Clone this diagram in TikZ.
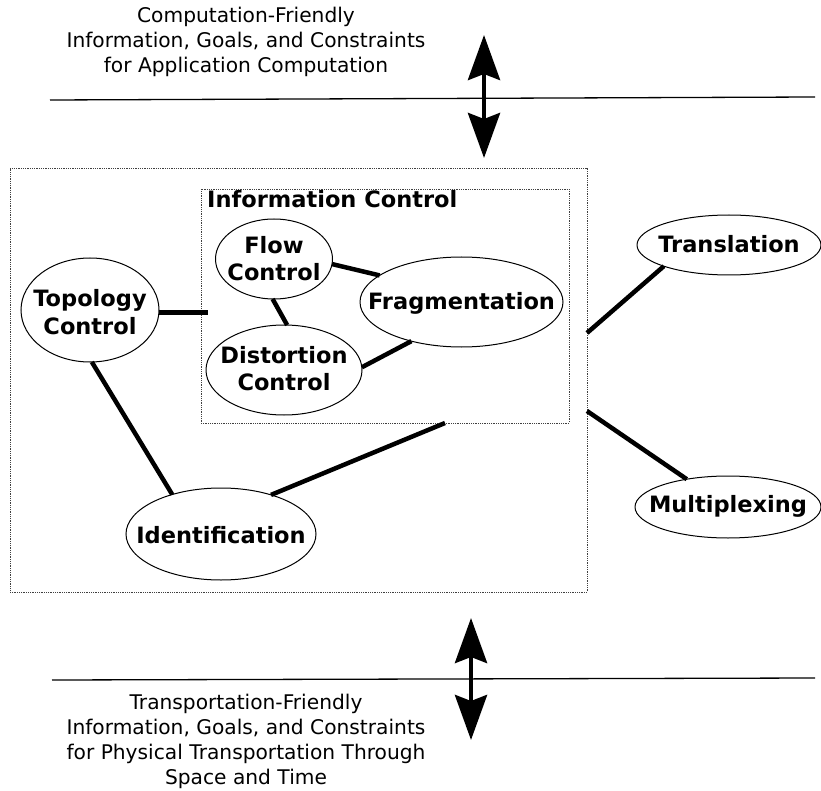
\documentclass[tikz,border=0pt]{standalone}
\usepackage{fontspec}
\setmainfont{DejaVu Sans}
\usetikzlibrary{shapes.geometric,arrows.meta}
\newcommand\ctext[2][0.3em]{\makebox[0pt]{\smash{\raisebox{-#1}{\begin{tabular}{@{}c@{}}#2\end{tabular}}}}}
\tikzset{
  ell/.style={draw, ellipse, inner sep=0pt, outer sep=0pt, line width=1pt,
    font=\bfseries\fontsize{22.5}{27.5}\selectfont},
  conn/.style={line width=4.5pt},
  dotbox/.style={draw=black!75, densely dotted, line width=0.8pt, inner sep=0pt, outer sep=0pt},
  hline/.style={line width=1.3pt},
  bigarrow/.style={line width=4.5pt, {Stealth[length=45pt,width=32pt,inset=6pt]}-{Stealth[length=45pt,width=32pt,inset=6pt]}},
  note/.style={align=center, font=\fontsize{20.2}{25}\selectfont, inner sep=0pt}
}
\begin{document}
\begin{tikzpicture}[x=1pt,y=-1pt]
\useasboundingbox (0,0) rectangle (821,791);
% texts
\node[note] (toptext) at (246,42) {Computation-Friendly\\Information, Goals, and Constraints\\for Application Computation};
\node[note] (bottext) at (246,741.5) {Transportation-Friendly\\Information, Goals, and Constraints\\for Physical Transportation Through\\Space and Time};
% horizontal lines
\coordinate (h1a) at (50,100);
\coordinate (h1b) at (815,97);
\coordinate (h2a) at (52,680);
\coordinate (h2b) at (815,678);
\draw[hline] (h1a) -- (h1b);
\draw[hline] (h2a) -- (h2b);
% arrows
\coordinate (ta1) at (484,35);
\coordinate (ta2) at (484,158);
\coordinate (ba1) at (471,618);
\coordinate (ba2) at (471,740);
\draw[bigarrow] (ta1) -- (ta2);
\draw[bigarrow] (ba1) -- (ba2);
% boxes
\node[dotbox, minimum width=577pt, minimum height=424pt] (outer) at (298.5,380) {};
\node[dotbox, minimum width=368pt, minimum height=234pt] (info) at (385,306) {};
\node[anchor=west, inner sep=0pt, font=\bfseries\fontsize{22.5}{27.5}\selectfont] (infotitle) at (207,199) {Information Control};
% ellipses
\node[ell, minimum width=117pt, minimum height=80pt] (flow) at (274,259) {\ctext[0.35em]{Flow\\Control}};
\node[ell, minimum width=203pt, minimum height=90pt] (frag) at (461.5,302) {\ctext{Fragmentation}};
\node[ell, minimum width=156pt, minimum height=90pt] (dist) at (284,370) {\ctext{Distortion\\Control}};
\node[ell, minimum width=138pt, minimum height=104pt] (topo) at (90,310) {\ctext[0.45em]{Topology\\Control}};
\node[ell, minimum width=190pt, minimum height=92pt] (ident) at (221,534) {\ctext[0.4em]{Identification}};
\node[ell, minimum width=184pt, minimum height=60pt] (trans) at (729,245) {\ctext{Translation}};
\node[ell, minimum width=186pt, minimum height=62pt] (mult) at (728,507) {\ctext[0.25em]{Multiplexing}};
% connectors
\draw[conn] (flow.-5) -- (frag.162);
\draw[conn] (flow.-92) -- (dist.86);
\draw[conn] (dist.2) -- (frag.-142);
\coordinate (infoL) at ([xshift=7pt]info.west);
\draw[conn] (topo.-2) -- (infoL |- topo.-2);
\draw[conn] (topo.-88) -- (ident.141);
\draw[conn] (ident.38) -- ([xshift=60pt]info.south);
\draw[conn] ([yshift=47pt]outer.east) -- (trans.-162);
\draw[conn] ([yshift=-31pt]outer.east) -- (mult.146);
\end{tikzpicture}
\end{document}
